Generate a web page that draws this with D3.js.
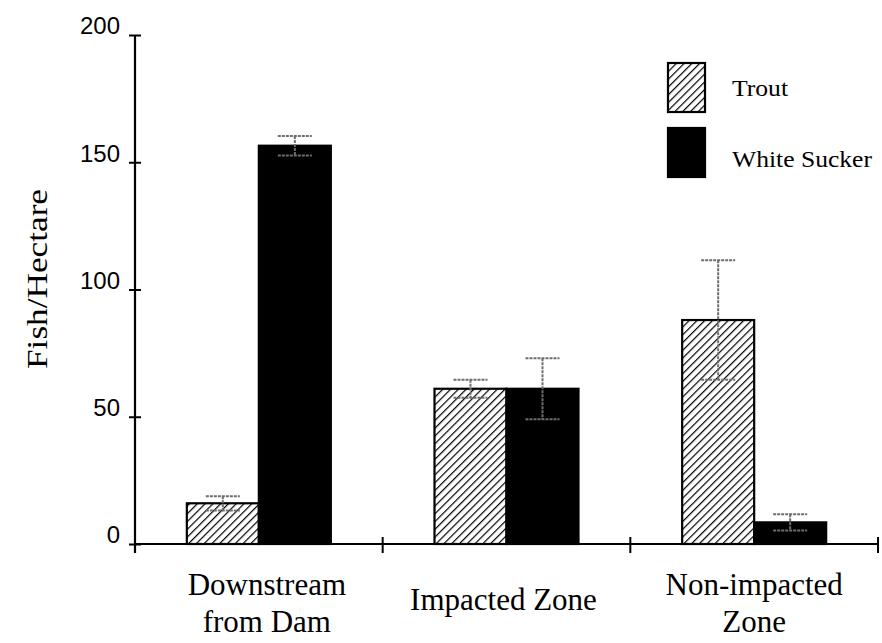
<!DOCTYPE html>
<html>
<head>
<meta charset="utf-8">
<script src="https://cdn.jsdelivr.net/npm/d3@7"></script>
<style>
  html, body { margin: 0; padding: 0; background: #fff; }
  svg { display: block; }
</style>
</head>
<body>
<svg id="chart" width="882" height="643"></svg>
<script>
// ---- Data ----
const categories = ["Downstream from Dam", "Impacted Zone", "Non-impacted Zone"];
const categoryLines = [["Downstream", "from Dam"], ["Impacted Zone"], ["Non-impacted", "Zone"]];
const seriesNames = ["Trout", "White Sucker"];
const troutValues = [16, 61, 88];
const troutErrors = [2.8, 3.5, 23.5];
const suckerValues = [156.5, 61, 8.5];
const suckerErrors = [3.8, 12, 3.2];
const yTickValues = [0, 50, 100, 150, 200];
const yLabel = "Fish/Hectare";

(function () {
const svg = d3.select("#chart");

// hatch pattern
const defs = svg.append("defs");
const pat = defs.append("pattern")
  .attr("id", "hatch")
  .attr("patternUnits", "userSpaceOnUse")
  .attr("width", 5.5).attr("height", 5.5)
  .attr("patternTransform", "rotate(45)");
pat.append("rect").attr("width", 5.5).attr("height", 5.5).attr("fill", "#fff");
pat.append("line").attr("x1", 0).attr("y1", 0).attr("x2", 0).attr("y2", 5.5)
  .attr("stroke", "#000").attr("stroke-width", 2.4);

const fills = { "Trout": "url(#hatch)", "White Sucker": "#000" };

const mLeft = 135, mRight = 878, mTop = 35, mBottom = 544;

const x0 = d3.scaleBand().domain(categories).range([mLeft, mRight])
  .paddingInner(0.4186).paddingOuter(0.2093);
const x1 = d3.scaleBand().domain(seriesNames).range([0, x0.bandwidth()]).padding(0);
const y = d3.scaleLinear().domain([0, 200]).range([mBottom, mTop]);

const rows = categories.map((c, i) => ({
  cat: c,
  vals: [
    { s: "Trout", v: troutValues[i], e: troutErrors[i] },
    { s: "White Sucker", v: suckerValues[i], e: suckerErrors[i] }
  ]
}));

// bars
const g = svg.append("g");
const grp = g.selectAll("g.grp").data(rows).join("g")
  .attr("class", "grp")
  .attr("transform", d => `translate(${x0(d.cat)},0)`);

grp.selectAll("rect").data(d => d.vals).join("rect")
  .attr("x", d => x1(d.s))
  .attr("y", d => y(d.v))
  .attr("width", x1.bandwidth())
  .attr("height", d => y(0) - y(d.v))
  .attr("fill", d => fills[d.s])
  .attr("stroke", "#000")
  .attr("stroke-width", 2.2);

// error bars
const capW = 34;
const eb = grp.selectAll("g.eb").data(d => d.vals).join("g").attr("class", "eb");
const cxOf = d => x1(d.s) + x1.bandwidth() / 2;
eb.append("line")
  .attr("x1", cxOf).attr("x2", cxOf)
  .attr("y1", d => y(d.v + d.e))
  .attr("y2", d => y(d.v - d.e));
eb.append("line")
  .attr("x1", d => cxOf(d) - capW / 2)
  .attr("x2", d => cxOf(d) + capW / 2)
  .attr("y1", d => y(d.v + d.e))
  .attr("y2", d => y(d.v + d.e));
eb.append("line")
  .attr("x1", d => cxOf(d) - capW / 2)
  .attr("x2", d => cxOf(d) + capW / 2)
  .attr("y1", d => y(d.v - d.e))
  .attr("y2", d => y(d.v - d.e));
eb.selectAll("line")
  .attr("stroke", "#6e6e6e")
  .attr("stroke-width", 2)
  .attr("stroke-dasharray", "3,1");

// y axis
const yAxis = svg.append("g")
  .attr("transform", `translate(${mLeft},0)`)
  .call(d3.axisLeft(y).tickValues(yTickValues).tickSize(6).tickPadding(9).tickFormat(d3.format("d")));
yAxis.select(".domain").remove();
yAxis.selectAll(".tick line").attr("x1", 6).attr("x2", -6).attr("stroke", "#000").attr("stroke-width", 2);
yAxis.selectAll(".tick text")
  .attr("font-family", "'Liberation Sans', Arial, sans-serif")
  .attr("font-size", 24)
  .attr("fill", "#000")
  .attr("dy", "-0.05em");
yAxis.append("line")
  .attr("x1", 0).attr("x2", 0)
  .attr("y1", y(200)).attr("y2", y(0) + 9)
  .attr("stroke", "#000").attr("stroke-width", 2.2);

// x axis
const xAxis = svg.append("g")
  .attr("transform", `translate(0,${mBottom})`)
  .call(d3.axisBottom(x0).tickSize(0).tickFormat(""));
xAxis.select(".domain").attr("d", `M${mLeft},0H${mRight}`).attr("stroke", "#000").attr("stroke-width", 2.2);
xAxis.selectAll(".tick").remove();
const boundaries = categories.map((c) => x0(c) + x0.bandwidth() + x0.step() * x0.paddingInner() / 2);
xAxis.selectAll("line.bnd").data(boundaries).join("line")
  .attr("class", "bnd")
  .attr("x1", d => d).attr("x2", d => d)
  .attr("y1", -7).attr("y2", 9)
  .attr("stroke", "#000").attr("stroke-width", 2);

// category labels
const catOffsets = [8, -3, 0];
const catG = svg.append("g")
  .attr("font-family", "'Liberation Serif', 'Times New Roman', serif")
  .attr("font-size", 31)
  .attr("fill", "#000")
  .attr("text-anchor", "middle");
categoryLines.forEach((lines, i) => {
  const cx = x0(categories[i]) + x0.bandwidth() / 2 + catOffsets[i];
  const t = catG.append("text").attr("x", cx).attr("y", lines.length === 1 ? 610 : 595);
  lines.forEach((ln, j) => {
    t.append("tspan").attr("x", cx).attr("dy", j === 0 ? 0 : 37).text(ln);
  });
});

// y label
svg.append("text")
  .attr("transform", `translate(47,279) rotate(-90)`)
  .attr("text-anchor", "middle")
  .attr("font-family", "'Liberation Serif', 'Times New Roman', serif")
  .attr("font-size", 29)
  .attr("textLength", 180)
  .attr("lengthAdjust", "spacingAndGlyphs")
  .attr("fill", "#000")
  .text(yLabel);

// legend
const legendTop = [63, 128];
const legendTextLen = [56, 140];
const leg = svg.append("g");
seriesNames.forEach((s, i) => {
  leg.append("rect")
    .attr("x", 668).attr("y", legendTop[i])
    .attr("width", 37).attr("height", 49)
    .attr("fill", fills[s]).attr("stroke", "#000").attr("stroke-width", 2.2);
  leg.append("text")
    .attr("x", 732).attr("y", legendTop[i] + 33 + i * 6)
    .attr("font-family", "'Liberation Serif', 'Times New Roman', serif")
    .attr("font-size", 24)
    .attr("textLength", legendTextLen[i])
    .attr("lengthAdjust", "spacingAndGlyphs")
    .attr("fill", "#000")
    .text(s);
});
})();
</script>
</body>
</html>
